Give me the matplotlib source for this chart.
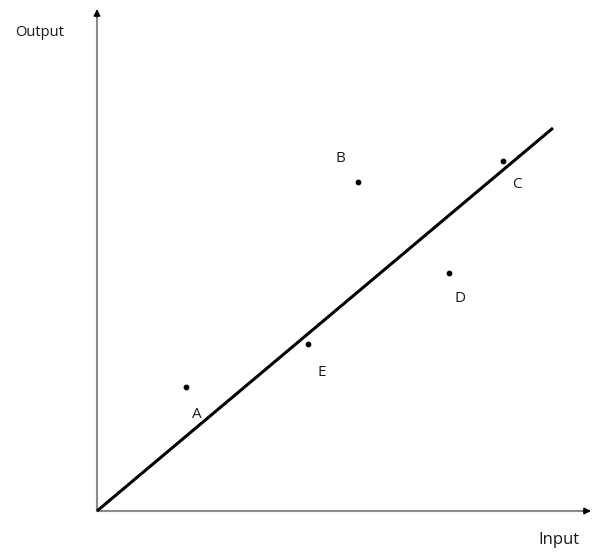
import numpy as np
import matplotlib
matplotlib.use('Agg')
import matplotlib.pyplot as plt

plt.rcParams['font.family'] = ['Open Sans', 'DejaVu Sans']

# point data (arbitrary input/output units)
names = ['A', 'B', 'C', 'D', 'E']
inp = [89, 261, 406, 352, 211]
out = [124, 329, 350, 238, 167]
# label positions next to each point
lab_x = [100, 243, 420, 363, 225]
lab_y = [96, 352, 326, 213, 139]
# fitted line through origin
line_x = [0, 456]
line_y = [0, 383]

fig = plt.figure(figsize=(5.92, 5.54), dpi=100)
ax = fig.add_axes([0, 0, 1, 1])
ax.set_xlim(-97, 495)
ax.set_ylim(-43, 511)
ax.axis('off')

# axes: gray shafts, black arrow heads
ax.plot([0, 488], [0, 0], color='#8a8a8a', lw=1.5)
ax.plot([0, 0], [0, 496], color='#8a8a8a', lw=1.5)
ax.annotate('', xy=(494, 0), xytext=(486, 0),
            arrowprops=dict(arrowstyle='-|>', color='black', lw=1,
                            mutation_scale=10, shrinkA=0, shrinkB=0))
ax.annotate('', xy=(0, 502), xytext=(0, 494),
            arrowprops=dict(arrowstyle='-|>', color='black', lw=1,
                            mutation_scale=10, shrinkA=0, shrinkB=0))
ax.text(-82, 478, 'Output', fontsize=10.5, va='center', ha='left', color='#1a1a1a')
ax.text(483, -29, 'Input', fontsize=12, va='center', ha='right', color='#1a1a1a')

ax.plot(line_x, line_y, color='black', lw=2.2, solid_capstyle='butt')
ax.scatter(inp, out, s=10, color='black', zorder=3)
for i in range(len(names)):
    ax.text(lab_x[i], lab_y[i], names[i], fontsize=11, ha='center', va='center',
            color='#1a1a1a')

plt.savefig('out.png', dpi=100)
